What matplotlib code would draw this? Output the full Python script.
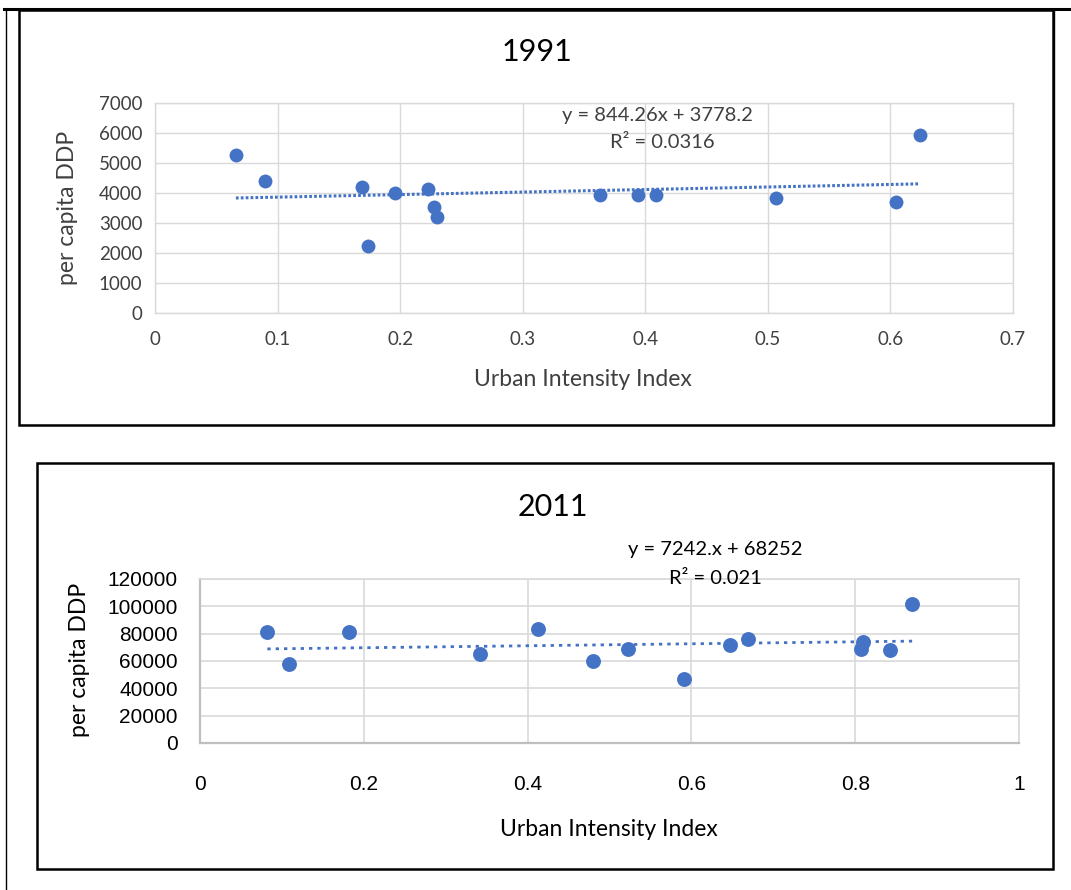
import matplotlib.pyplot as plt
from matplotlib.patches import Rectangle
from matplotlib.lines import Line2D
import numpy as np

W, H = 1071, 890

# 1991 data
uii_1991 = [0.066, 0.0895, 0.169, 0.174, 0.196, 0.223, 0.228, 0.230,
            0.3627, 0.3937, 0.4086, 0.5063, 0.6044, 0.624]
ddp_1991 = [5270, 4410, 4210, 2240, 4010, 4150, 3540, 3210,
            3935, 3935, 3935, 3845, 3690, 5920]
fit_1991 = [844.26, 3778.2]

# 2011 data
uii_2011 = [0.0822, 0.1087, 0.182, 0.342, 0.4126, 0.4797, 0.5221, 0.5905,
            0.6468, 0.669, 0.8096, 0.8072, 0.8431, 0.8695]
ddp_2011 = [81000, 57800, 81000, 64900, 83700, 60000, 68600, 46600,
            72000, 76100, 74200, 69000, 67900, 101600]
fit_2011 = [7242.0, 68252]

blue = '#4472C4'
grid = '#d9d9d9'
txt = '#404040'


def rect(x0, y0, x1, y1):
    # pixel box (from top-left) -> figure fraction
    return [x0 / W, 1 - y1 / H, (x1 - x0) / W, (y1 - y0) / H]


def fx(x):
    return x / W


def fy(y):
    return 1 - y / H


fig = plt.figure(figsize=(W / 100, H / 100), dpi=100)
fig.patch.set_facecolor('white')

# page lines and frames
fig.add_artist(Line2D([fx(4), fx(1071)], [fy(9), fy(9)], color='black', lw=2.2))
fig.add_artist(Line2D([fx(6), fx(6)], [fy(9), fy(890)], color='black', lw=1.0))
fig.add_artist(Line2D([fx(1054), fx(1054)], [fy(9), fy(425)], color='black', lw=1.0))
for (x0, y0, x1, y1) in [(19, 10, 1053, 425), (37, 463, 1053, 869)]:
    fig.add_artist(Rectangle((fx(x0), fy(y1)), fx(x1) - fx(x0), fy(y0) - fy(y1),
                             fill=False, edgecolor='black', lw=1.8))

# ---- 1991 ----
ax1 = fig.add_axes(rect(155, 103, 1013, 313))
ax1.scatter(uii_1991, ddp_1991, s=100, color=blue, zorder=3, linewidths=0)
xs = np.array([min(uii_1991), max(uii_1991)])
ax1.plot(xs, fit_1991[0] * xs + fit_1991[1], color=blue, lw=2.2,
         linestyle=(0, (0.9, 0.7)), zorder=2)
ax1.set_xlim(0, 0.7)
ax1.set_ylim(0, 7000)
ax1.set_xticks(np.arange(0, 0.71, 0.1))
ax1.set_xticklabels(['0', '0.1', '0.2', '0.3', '0.4', '0.5', '0.6', '0.7'])
ax1.set_yticks(range(0, 7001, 1000))
ax1.grid(True, color=grid, lw=1.0)
ax1.set_axisbelow(True)
for s in ax1.spines.values():
    s.set_color(grid)
    s.set_linewidth(1.0)
ax1.tick_params(length=0, labelsize=13.5, colors=txt)
ax1.tick_params(axis='x', pad=13)
ax1.tick_params(axis='y', pad=9)
for t in ax1.get_xticklabels() + ax1.get_yticklabels():
    t.set_family('Lato')

fig.text(fx(537), fy(52), '1991', ha='center', va='center', fontsize=22, family='Lato')
fig.text(fx(657), fy(116), 'y = 844.26x + 3778.2', ha='center', va='center',
         fontsize=14.5, family='Lato', color=txt)
fig.text(fx(662), fy(142), 'R² = 0.0316', ha='center', va='center',
         fontsize=14.5, family='Lato', color=txt)
fig.text(fx(68), fy(208), 'per capita DDP', ha='center', va='center', rotation=90,
         fontsize=16.5, family='Lato', color=txt)
fig.text(fx(583), fy(380), 'Urban Intensity Index', ha='center', va='center',
         fontsize=16.5, family='Lato', color=txt)

# ---- 2011 ----
ax2 = fig.add_axes(rect(200, 579, 1019, 743))
ax2.scatter(uii_2011, ddp_2011, s=115, color=blue, zorder=3, linewidths=0)
xs = np.array([min(uii_2011), max(uii_2011)])
ax2.plot(xs, fit_2011[0] * xs + fit_2011[1], color=blue, lw=2.0,
         linestyle=(0, (1.2, 1.8)), zorder=2)
ax2.set_xlim(0, 1)
ax2.set_ylim(0, 120000)
ax2.set_xticks([0, 0.2, 0.4, 0.6, 0.8, 1.0])
ax2.set_xticklabels(['0', '0.2', '0.4', '0.6', '0.8', '1'])
ax2.set_yticks(range(0, 120001, 20000))
ax2.grid(True, color=grid, lw=1.2)
ax2.set_axisbelow(True)
for s in ax2.spines.values():
    s.set_color(grid)
    s.set_linewidth(1.2)
ax2.spines['left'].set_color('#bfbfbf')
ax2.spines['bottom'].set_color('#bfbfbf')
ax2.spines['left'].set_linewidth(1.6)
ax2.spines['bottom'].set_linewidth(1.6)
ax2.tick_params(length=0, labelsize=15, colors='black')
ax2.tick_params(axis='x', pad=23)
ax2.tick_params(axis='y', pad=16)
for t in ax2.get_xticklabels() + ax2.get_yticklabels():
    t.set_family('Liberation Sans')

fig.text(fx(553), fy(507), '2011', ha='center', va='center', fontsize=22, family='Lato')
fig.text(fx(715), fy(549), 'y = 7242.x + 68252', ha='center', va='center',
         fontsize=14.5, family='Lato')
fig.text(fx(715), fy(578), 'R² = 0.021', ha='center', va='center',
         fontsize=14.5, family='Lato')
fig.text(fx(80), fy(660), 'per capita DDP', ha='center', va='center', rotation=90,
         fontsize=16.5, family='Lato')
fig.text(fx(609), fy(830), 'Urban Intensity Index', ha='center', va='center',
         fontsize=16.5, family='Lato')

fig.savefig('out.png', dpi=100)
plt.close(fig)
